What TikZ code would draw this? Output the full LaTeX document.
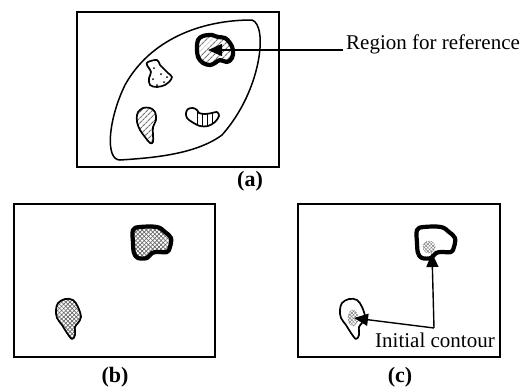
\documentclass[tikz,border=0pt]{standalone}
\usepackage{fontspec}
\setmainfont{Liberation Serif}
\usetikzlibrary{arrows.meta,patterns.meta}
\newcommand\shpBigBlob{plot[smooth cycle,tension=0.6] coordinates {(133,230) (140,227) (157,227) (165,232) (171,238) (170,247) (167,252) (158,252) (152,253) (147,258) (138,258) (134,253) (133,243)}}
\newcommand\shpSmallBlob{plot[smooth cycle,tension=0.6] coordinates {(58,303) (65,299) (73,300) (78,307) (81,317) (78,323) (75,327) (75,335) (72,339) (67,333) (62,325) (57,318) (56,310)}}
\newcommand\shpRefBlob{plot[smooth cycle,tension=0.6] coordinates {(198,40) (203,36) (212,35) (218,37) (225,38) (230,43) (233,50) (232,58) (227,62) (220,60) (215,63) (210,65) (203,63) (198,57) (197,48)}}
\newcommand\shpDotBlob{plot[smooth cycle,tension=0.6] coordinates {(148,62) (157,60) (160,65) (163,68) (168,73) (172,77) (169,82) (165,85) (157,87) (150,85) (149,78) (151,72) (147,65)}}
\newcommand\shpHatchBlob{plot[smooth cycle,tension=0.6] coordinates {(138,112) (143,108) (150,108) (155,112) (156,120) (153,127) (153,135) (153,142) (150,143) (145,137) (140,130) (137,122) (137,115)}}
\newcommand\shpCrescent{plot[smooth cycle,tension=0.55] coordinates {(186,113) (188,109) (193,108) (197,110) (199,113) (205,114) (212,113) (217,112) (219,116) (215,122) (208,126) (200,126) (192,122) (187,118)}}
\begin{document}
\begin{tikzpicture}[x=1pt,y=-1pt,
  frame/.style={line width=1.6pt},
  thickblob/.style={line width=4.2pt,line join=round},
  thinblob/.style={line width=1.7pt,line join=round},
  arr/.style={line width=1.4pt,-{Triangle[length=14pt,width=12pt]}},
  lbl/.style={font=\fontsize{22}{26}\selectfont\bfseries,inner sep=0pt},
  txt/.style={font=\fontsize{21}{25}\selectfont,inner sep=0pt},
  hatchA/.style={pattern={Lines[angle=45,distance=4pt,line width=1.1pt]},pattern color=black!55},
  crossA/.style={pattern={Lines[angle=45,distance=3pt,line width=0.7pt]},pattern color=black!60},
  crossB/.style={pattern={Lines[angle=-45,distance=3pt,line width=0.7pt]},pattern color=black!60},
  spotA/.style={pattern={Lines[angle=45,distance=2.5pt,line width=0.5pt]},pattern color=gray},
  spotB/.style={pattern={Lines[angle=-45,distance=2.5pt,line width=0.5pt]},pattern color=gray},
]
\useasboundingbox (0,0) rectangle (528,389);
% ---------- panel (a)
\draw[frame] (77,12) rectangle (279,167);
\draw[line width=1.5pt] (252,20) .. controls (268,25) and (262,90) .. (222,135)
  .. controls (195,155) and (150,158) .. (120,160)
  .. controls (105,160) and (108,120) .. (125,85)
  .. controls (150,40) and (200,20) .. (252,20) -- cycle;
% reference region
\fill[hatchA] \shpRefBlob;
\draw[thickblob] \shpRefBlob;
% dotted region
\draw[thinblob] \shpDotBlob;
\foreach \p in {(154,68),(161,74),(153,79),(164,82),(157,85),(167,77)} \fill \p circle (1);
% hatched region
\fill[hatchA] \shpHatchBlob;
\draw[thinblob] \shpHatchBlob;
% crescent with vertical stripes
\begin{scope}
  \clip \shpCrescent;
  \foreach \x in {197,202,207,212} \draw[line width=1pt] (\x,100) -- (\x,130);
\end{scope}
\draw[thinblob] \shpCrescent;
\node[txt,anchor=base west] (reftext) at (346,49) {Region for reference};
\coordinate (reftip) at (208,50);
\draw[arr] ([xshift=-3pt,yshift=-1pt]reftext.base west) -- (reftip);
\node[lbl] (la) at (250,181) {(a)};
% ---------- panel (b)
\draw[frame] (14,204) rectangle (215,357);
\fill[crossA] \shpBigBlob; \fill[crossB] \shpBigBlob;
\draw[thickblob] \shpBigBlob;
\fill[crossA] \shpSmallBlob; \fill[crossB] \shpSmallBlob;
\draw[thinblob] \shpSmallBlob;
\node[lbl] (lb) at (115,377) {(b)};
% ---------- panel (c)
\draw[frame] (298,204) rectangle (500,357);
\begin{scope}[xshift=284pt]
  \draw[thickblob] \shpBigBlob;
  \draw[thinblob] \shpSmallBlob;
\end{scope}
\fill[spotA] (429,247) ellipse (6 and 6); \fill[spotB] (429,247) ellipse (6 and 6);
\draw[gray,densely dotted,line width=0.6pt] (429,247) ellipse (6 and 6);
\fill[spotA] (353,318) ellipse (5 and 8); \fill[spotB] (353,318) ellipse (5 and 8);
\draw[gray,densely dotted,line width=0.6pt] (353,318) ellipse (5 and 8);
\node[txt,anchor=base west] (inittext) at (375,347) {Initial contour};
\coordinate (corner) at (434,328);
\coordinate (tipup) at (432,253);
\coordinate (tipleft) at (354,318);
\draw[arr] (corner) -- (tipup);
\draw[arr] (corner) -- (tipleft);
\node[lbl] (lc) at (400,377) {(c)};
\end{tikzpicture}
\end{document}
